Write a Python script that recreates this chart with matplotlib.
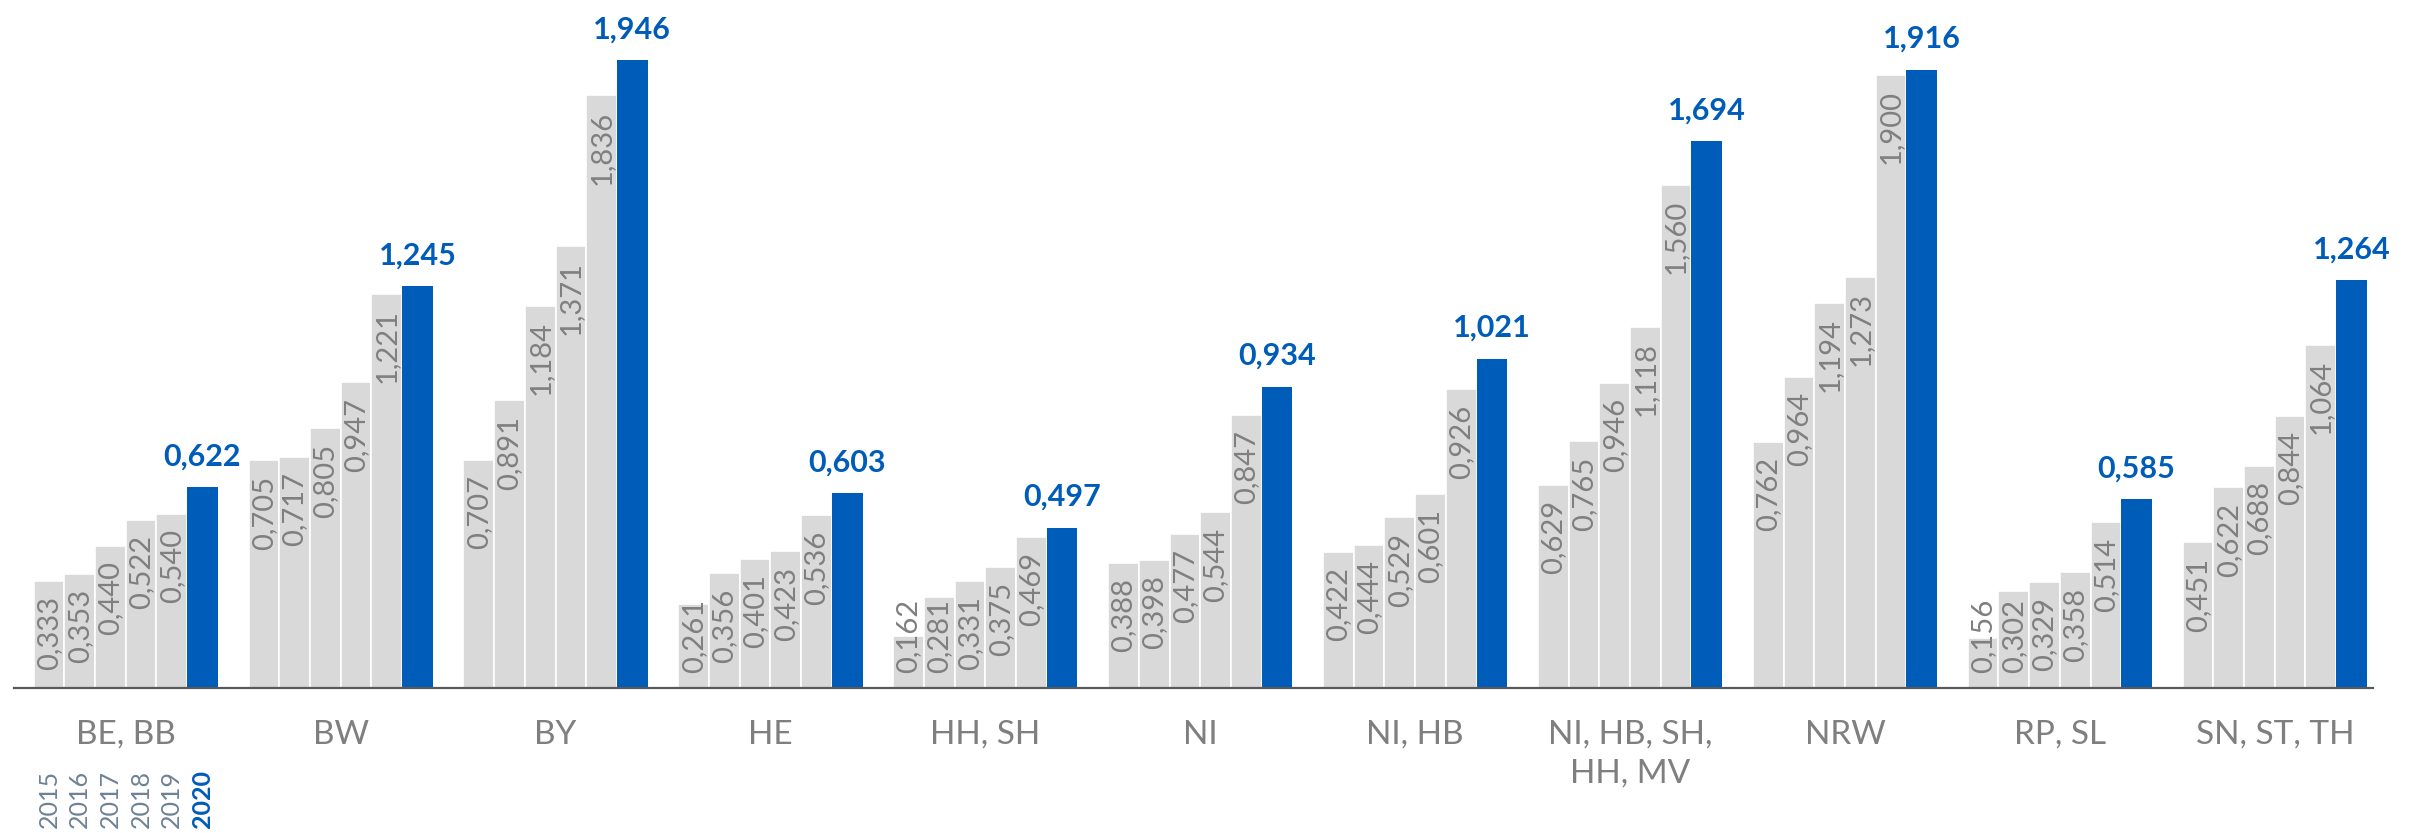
import matplotlib.pyplot as plt

plt.rcParams['font.family'] = ['Lato', 'DejaVu Sans']

# regions and yearly values
regions = ['BE, BB', 'BW', 'BY', 'HE', 'HH, SH', 'NI', 'NI, HB',
           'NI, HB, SH,\nHH, MV', 'NRW', 'RP, SL', 'SN, ST, TH']
years = ['2015', '2016', '2017', '2018', '2019', '2020']
v2015 = [0.333, 0.705, 0.707, 0.261, 0.162, 0.388, 0.422, 0.629, 0.762, 0.156, 0.451]
v2016 = [0.353, 0.717, 0.891, 0.356, 0.281, 0.398, 0.444, 0.765, 0.964, 0.302, 0.622]
v2017 = [0.440, 0.805, 1.184, 0.401, 0.331, 0.477, 0.529, 0.946, 1.194, 0.329, 0.688]
v2018 = [0.522, 0.947, 1.371, 0.423, 0.375, 0.544, 0.601, 1.118, 1.273, 0.358, 0.844]
v2019 = [0.540, 1.221, 1.836, 0.536, 0.469, 0.847, 0.926, 1.560, 1.900, 0.514, 1.064]
v2020 = [0.622, 1.245, 1.946, 0.603, 0.497, 0.934, 1.021, 1.694, 1.916, 0.585, 1.264]
series = [v2015, v2016, v2017, v2018, v2019, v2020]

grey = '#D9D9D9'
blue = '#005CB9'
txt_grey = '#7F7F7F'
year_grey = '#6E8295'

fig = plt.figure(figsize=(24.18, 8.33), dpi=100)
ax = fig.add_axes([14 / 2418, 145 / 833, 2359 / 2418, 677.7 / 833])
ax.set_xlim(-1.14, 75.7)
ax.set_ylim(0, 2.1)
px_per_unit = 677.7 / 2.1

n = len(years)
step = n + 1
for j, vals in enumerate(series):
    last = j == n - 1
    xs = [i * step + j for i in range(len(regions))]
    ax.bar(xs, vals, width=1.0, color=blue if last else grey,
           edgecolor='white', linewidth=1.2 if not last else 0)
    for x, v in zip(xs, vals):
        lbl = f'{v:.3f}'.replace('.', ',')
        if last:
            ax.annotate(lbl, (x, v), xytext=(0, 12), textcoords='offset points',
                        ha='center', va='bottom', fontsize=22, fontweight='bold',
                        color=blue, annotation_clip=False)
        elif v * px_per_unit - 15 >= 75 + 15:
            # label sits inside the top end of the bar
            ax.annotate(lbl, (x, v), xytext=(0, -11), textcoords='offset points',
                        ha='center', va='top', rotation=90, fontsize=21,
                        color=txt_grey)
        else:
            # bar too short: label starts from the base
            ax.annotate(lbl, (x, 0), xytext=(0, 11), textcoords='offset points',
                        ha='center', va='bottom', rotation=90, fontsize=21,
                        color=txt_grey)

# region names under each group
for i, name in enumerate(regions):
    ax.annotate(name, (i * step + (n - 1) / 2, 0), xytext=(0, -23),
                textcoords='offset points', ha='center', va='top',
                fontsize=24, color=txt_grey, linespacing=1.35,
                annotation_clip=False)

# year legend under the first group
for j, yr in enumerate(years):
    last = j == n - 1
    ax.annotate(yr, (j, 0), xytext=(0, -101), textcoords='offset points',
                ha='center', va='bottom', rotation=90, fontsize=18,
                fontweight='bold' if last else 'normal',
                color=blue if last else year_grey, annotation_clip=False)

for s in ['top', 'right', 'left']:
    ax.spines[s].set_visible(False)
ax.spines['bottom'].set_color('#595959')
ax.spines['bottom'].set_linewidth(1.6)
ax.set_xticks([])
ax.set_yticks([])

fig.savefig('out.png', dpi=100)
